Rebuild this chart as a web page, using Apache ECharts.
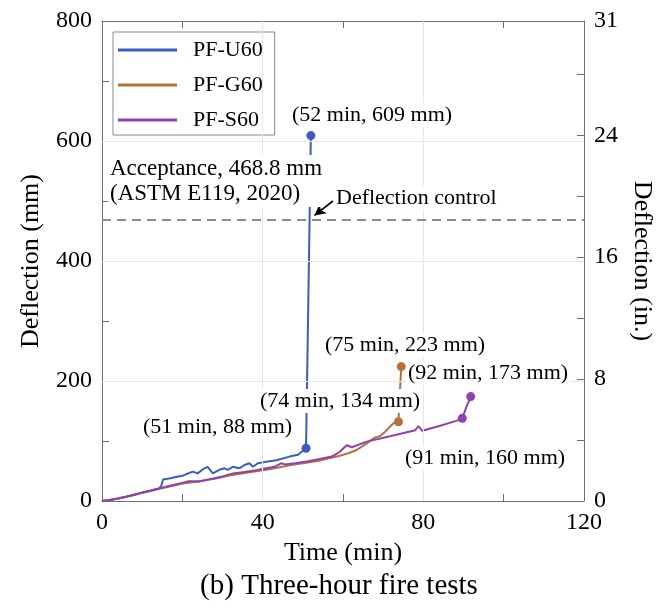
<!DOCTYPE html>
<html>
<head>
<meta charset="utf-8">
<script src="https://cdn.jsdelivr.net/npm/echarts@6/dist/echarts.min.js"></script>
<style>
html,body{margin:0;padding:0;background:#fff;}
#chart{width:665px;height:606px;}
</style>
</head>
<body>
<div id="chart"></div>
<script>
// ---- data (time in min, deflection in mm) ----
const seriesNames = ['PF-U60', 'PF-G60', 'PF-S60'];

const timeU = [0, 2, 4, 6, 8, 10, 12, 14, 14.7, 15.2, 17, 18.4, 20, 20.9, 22.6, 23.8, 25.5, 26.3, 27.6, 29.2, 30.5, 31.3, 32.6, 34.2, 35.5, 36.7, 37.6, 38.8, 40.9, 43.4, 46.7, 48.8, 49.2, 50.8, 52];
const deflU = [0, 1.5, 4, 7, 10.5, 14, 17, 20.5, 24, 36, 38, 40, 42, 44.5, 49, 46, 54.5, 57, 46, 52, 54.5, 52, 57, 54.5, 60, 63, 57, 63, 65.5, 68, 74, 77, 80, 88, 609];

const timeG = [0, 2, 4, 6, 8, 10, 12, 14, 16, 18, 20, 22, 24, 26, 28, 30, 32, 34, 36, 38, 40.9, 44, 47, 50, 54, 57, 59, 61.3, 63.4, 65.9, 68, 69.2, 70.5, 71.7, 72.6, 73.8, 74.5];
const deflG = [0, 1.5, 4, 7, 10, 13.5, 16.5, 20, 23, 26, 29, 31, 32, 35, 37, 40, 43, 45, 47, 49, 52, 56, 60, 63, 67, 72, 75, 79.5, 85, 96, 106, 108, 115.5, 124, 129.5, 132, 224];

const timeS = [0, 2, 4, 6, 8, 10, 12, 14, 16, 18, 20, 21.6, 22, 24.2, 26, 28, 30, 32.6, 35, 38, 40.9, 43, 44.7, 45.5, 48, 51, 54.2, 57.2, 59.2, 60.9, 62.2, 65.9, 71.7, 78, 78.8, 79.7, 84, 88.4, 89.7, 90.8, 91.8];
const deflS = [0, 1.5, 4, 7, 10.5, 14, 17, 20.5, 24, 27, 30, 33, 31, 33, 35, 38, 41, 46, 48, 51, 54.5, 57, 63, 61, 63, 66, 70, 74, 82, 93, 89.5, 99, 108, 118, 125, 117, 125, 134, 138, 158, 174];

// marked points
const dotTimeU = [50.8, 52];
const dotDeflU = [88, 609];
const dotTimeG = [73.8, 74.5];
const dotDeflG = [132, 224];
const dotTimeS = [89.7, 91.8];
const dotDeflS = [138, 174];

const acceptanceLimit = 468.8;   // mm
const mmPerInch = 25.4;
const xRange = {min: 0, max: 120, tick: 20, label: 40};
const yRange = {min: 0, max: 800, tick: 100, label: 200};
const xGrid = [40, 80];
const yGrid = [200, 400, 600];
const inchTick = 4, inchLabel = 8;

const colors = ['#3d5cc0', '#b47239', '#8e42ad'];
const FONT = '"Liberation Serif", "Times New Roman", serif';

function zip(t, d) { return t.map((v, i) => [v, d[i]]); }

const chart = echarts.init(document.getElementById('chart'));

const axisGray = '#6e6e6e';
const lineSeries = (name, t, d, color) => ({
  name, type: 'line', data: zip(t, d), symbol: 'none', xAxisIndex: 0, yAxisIndex: 0,
  lineStyle: {color, width: 2}, itemStyle: {color}, z: 2, animation: false
});
const dotSeries = (name, t, d, color) => ({
  name, type: 'scatter', data: zip(t, d), symbol: 'circle', symbolSize: 9,
  itemStyle: {color, opacity: 1}, z: 3, animation: false, xAxisIndex: 0, yAxisIndex: 0
});

function txt(text, x, y, size, extra) {
  return {
    type: 'text', x, y, z: 100,
    style: Object.assign({
      text, font: size + 'px ' + FONT, fill: '#000',
      verticalAlign: 'middle', align: 'left',
      backgroundColor: '#fff', padding: [1, 2]
    }, extra || {})
  };
}

const tickStyle = {show: true, inside: true, length: 7, lineStyle: {color: axisGray, width: 1}};
const lineStyleAxis = {show: true, onZero: false, lineStyle: {color: axisGray, width: 1}};
const labelFont = {fontFamily: FONT, fontSize: 24, color: '#000', margin: 10};
const isMult = (v, m) => Math.abs(v / m - Math.round(v / m)) < 1e-6;

const option = {
  backgroundColor: '#fff',
  animation: false,
  grid: {left: 102, right: 81, top: 21, bottom: 105, containLabel: false},
  legend: {
    data: seriesNames,
    orient: 'vertical', left: 113, top: 32,
    backgroundColor: '#fff', borderColor: '#8a8a8a', borderWidth: 1, borderRadius: 0,
    padding: [6, 12, 3, 5], itemGap: 11, itemWidth: 59, itemHeight: 3, icon: 'rect',
    textStyle: {fontFamily: FONT, fontSize: 22, color: '#000', lineHeight: 24, padding: [0, 0, 0, 11]},
    selectedMode: false
  },
  xAxis: [{
    type: 'value', position: 'bottom', min: xRange.min, max: xRange.max, interval: xRange.tick,
    name: 'Time (min)', nameLocation: 'middle', nameGap: 38,
    nameTextStyle: {fontFamily: FONT, fontSize: 26, color: '#000'},
    axisLine: lineStyleAxis, axisTick: tickStyle,
    axisLabel: Object.assign({}, labelFont, {formatter: v => isMult(v, xRange.label) ? String(v) : ''}),
    splitLine: {show: false}
  }, {
    type: 'value', position: 'top', min: xRange.min, max: xRange.max, interval: xRange.tick,
    axisLine: lineStyleAxis, axisTick: tickStyle,
    axisLabel: {show: false}, splitLine: {show: false}
  }],
  yAxis: [{
    type: 'value', position: 'left', min: yRange.min, max: yRange.max, interval: yRange.tick,
    name: 'Deflection (mm)', nameLocation: 'middle', nameGap: 58, nameRotate: 90,
    nameTextStyle: {fontFamily: FONT, fontSize: 26, color: '#000'},
    axisLine: lineStyleAxis, axisTick: tickStyle,
    axisLabel: Object.assign({}, labelFont, {formatter: v => isMult(v, yRange.label) ? String(v) : ''}),
    splitLine: {show: false}
  }, {
    type: 'value', position: 'right', min: 0, max: yRange.max / mmPerInch, interval: inchTick,
    name: 'Deflection (in.)', nameLocation: 'middle', nameGap: 42, nameRotate: -90,
    nameTextStyle: {fontFamily: FONT, fontSize: 26, color: '#000'},
    axisLine: lineStyleAxis, axisTick: tickStyle,
    axisLabel: Object.assign({}, labelFont, {
      showMaxLabel: true,
      formatter: v => (isMult(v, inchLabel) || v > 30) ? String(Math.round(v)) : ''
    }),
    splitLine: {show: false}
  }],
  series: [
    {
      name: 'grid', type: 'line', data: [], animation: false, z: 1,
      markLine: {
        silent: true, animation: false, symbol: ['none', 'none'], label: {show: false},
        lineStyle: {color: '#e6e6e6', type: 'solid', width: 1},
        data: xGrid.map(v => ({xAxis: v})).concat(yGrid.map(v => ({yAxis: v})))
      }
    },
    Object.assign(lineSeries(seriesNames[0], timeU, deflU, colors[0]), {
      markLine: {
        silent: true, animation: false, symbol: ['none', 'none'],
        label: {show: false},
        lineStyle: {color: '#8c8c8c', type: [9, 6], width: 2},
        data: [{yAxis: acceptanceLimit}]
      }
    }),
    lineSeries(seriesNames[1], timeG, deflG, colors[1]),
    lineSeries(seriesNames[2], timeS, deflS, colors[2]),
    dotSeries('U60 ends', dotTimeU, dotDeflU, colors[0]),
    dotSeries('G60 ends', dotTimeG, dotDeflG, colors[1]),
    dotSeries('S60 ends', dotTimeS, dotDeflS, colors[2]),
    {
      name: 'arrow', type: 'line', data: [], animation: false,
      markLine: {
        silent: true, animation: false, symbol: ['none', 'arrow'], symbolSize: [9, 11],
        label: {show: false},
        lineStyle: {color: '#000', type: 'solid', width: 1.6},
        data: [[{coord: [57.5, 500]}, {coord: [52.9, 476]}]]
      }
    }
  ],
  graphic: [
    txt('Acceptance, 468.8 mm\n(ASTM E119, 2020)', 108, 181, 23, {lineHeight: 25}),
    txt('Deflection control', 334, 198, 22),
    txt('(52 min, 609 mm)', 290, 115, 22),
    txt('(75 min, 223 mm)', 323, 345, 22),
    txt('(92 min, 173 mm)', 406, 373, 22),
    txt('(74 min, 134 mm)', 258, 401, 22),
    txt('(51 min, 88 mm)', 141, 427, 22),
    txt('(91 min, 160 mm)', 403, 458, 22),
    txt('(b) Three-hour fire tests', 339, 586, 29, {align: 'center', backgroundColor: 'transparent'})
  ]
};
chart.setOption(option);
</script>
</body>
</html>
